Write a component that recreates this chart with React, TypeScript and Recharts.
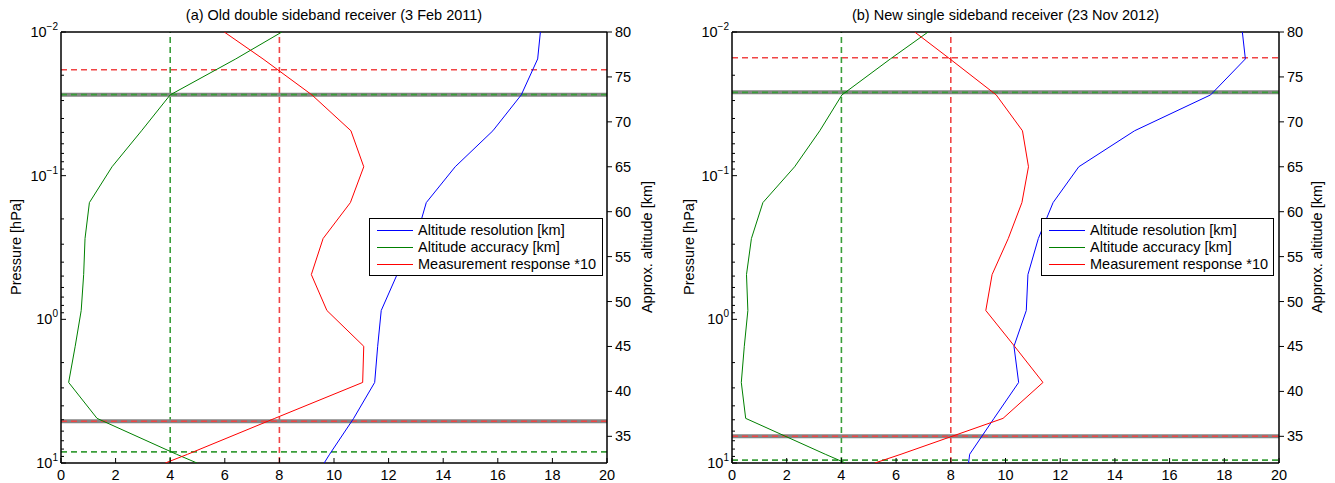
import React from "react";
import { ScatterChart, Scatter, XAxis, YAxis, ReferenceLine, Legend } from "recharts";

// pressure levels [hPa] of the retrieval grid (top to bottom of the plot)
const levels = [0.01, 0.0154, 0.0274, 0.0487, 0.0867, 0.154, 0.274, 0.488, 0.868, 1.54, 2.75, 4.89, 8.69, 10];

// (a) old double sideband receiver
const oldResolution = [17.56, 17.46, 16.86, 15.82, 14.44, 13.38, 13.0, 12.31, 11.73, 11.6, 11.49, 10.72, 9.84, 9.64];
const oldAccuracy = [8.09, 6.4, 4.0, 2.95, 1.87, 1.04, 0.88, 0.83, 0.74, 0.52, 0.28, 1.32, 4.23, 4.98];
const oldResponse = [5.98, 7.4, 9.19, 10.62, 11.09, 10.6, 9.6, 9.17, 9.74, 11.09, 11.05, 7.83, 4.64, 3.82];

// (b) new single sideband receiver
const newResolution = [18.66, 18.77, 17.5, 14.72, 12.68, 11.74, 11.2, 10.82, 10.76, 10.31, 10.48, 9.58, 8.69, 8.65];
const newAccuracy = [7.17, 5.79, 4.02, 3.21, 2.29, 1.13, 0.71, 0.53, 0.58, 0.45, 0.34, 0.5, 3.41, 4.15];
const newResponse = [6.68, 7.97, 9.66, 10.62, 10.84, 10.6, 10.1, 9.51, 9.28, 10.33, 11.37, 9.91, 6.18, 5.22];

// limits [hPa]: upper accuracy limit, upper response limit, lower response limit, lower accuracy limit
const oldLimits = { accTop: 0.0273, respTop: 0.0183, respBottom: 5.12, accBottom: 8.37 };
const newLimits = { accTop: 0.0263, respTop: 0.0151, respBottom: 6.51, accBottom: 9.55 };

const seriesNames = ["Altitude resolution [km]", "Altitude accuracy [km]", "Measurement response *10"];
const seriesColors = ["#0000ff", "#008000", "#ff0000"];

const xTicks = [0, 2, 4, 6, 8, 10, 12, 14, 16, 18, 20];
const pressureMajor = [0.01, 0.1, 1, 10];
const pressureMinor = [0.02, 0.03, 0.04, 0.05, 0.06, 0.07, 0.08, 0.09, 0.2, 0.3, 0.4, 0.5, 0.6, 0.7, 0.8, 0.9, 2, 3, 4, 5, 6, 7, 8, 9];
const altitudeTicks = [35, 40, 45, 50, 55, 60, 65, 70, 75, 80];

const FONT = '"Liberation Sans", Arial, Helvetica, sans-serif';
const GREEN_DASH = "#3a9e3a";
const RED_DASH = "#f04545";

const toPoints = (vals: number[]) => levels.map((p, i) => ({ p, v: vals[i] }));

const PressureTick = (props: any) => {
  const { x, y, payload } = props;
  const v = payload.value;
  const major = pressureMajor.some((m) => Math.abs(m - v) < 1e-9);
  const exp = Math.round(Math.log10(v));
  return (
    <g>
      <line x1={x} x2={x + (major ? 5 : 3)} y1={y} y2={y} stroke="#000" strokeWidth={1} />
      {major && (
        <text x={x - 3} y={y + 5} textAnchor="end" fontSize={14.5} fill="#000">
          10
          <tspan dy={-7} fontSize={10}>
            {exp < 0 ? "\u2212" + -exp : String(exp)}
          </tspan>
        </text>
      )}
    </g>
  );
};

const PressureMirrorTick = (props: any) => {
  const { x, y, payload } = props;
  const major = pressureMajor.some((m) => Math.abs(m - payload.value) < 1e-9);
  return <line x1={x} x2={x - (major ? 5 : 3)} y1={y} y2={y} stroke="#000" strokeWidth={1} />;
};

const AltitudeTick = (props: any) => {
  const { x, y, payload } = props;
  return (
    <g>
      <line x1={x} x2={x + 5} y1={y} y2={y} stroke="#000" strokeWidth={1} />
      <text x={x + 8} y={y + 5} textAnchor="start" fontSize={14.5} fill="#000">
        {payload.value}
      </text>
    </g>
  );
};

const BottomTick = (props: any) => {
  const { x, y, payload } = props;
  return (
    <g>
      <line x1={x} x2={x} y1={y} y2={y - 5} stroke="#000" strokeWidth={1} />
      <text x={x} y={y + 17} textAnchor="middle" fontSize={14.5} fill="#000">
        {payload.value}
      </text>
    </g>
  );
};

const TopTick = (props: any) => {
  const { x, y } = props;
  return <line x1={x} x2={x} y1={y} y2={y + 5} stroke="#000" strokeWidth={1} />;
};

const LegendBox = ({ width }: { width: number }) => (
  <div
    style={{
      boxSizing: "border-box",
      width,
      height: 58,
      border: "1.3px solid #000",
      background: "#fff",
      paddingTop: 3,
      fontFamily: FONT,
      fontSize: 14.5,
      color: "#000",
    }}
  >
    {seriesNames.map((name, i) => (
      <div key={name} style={{ display: "flex", alignItems: "center", height: 17 }}>
        <span style={{ display: "inline-block", width: 36, marginLeft: 7, borderTop: `1px solid ${seriesColors[i]}` }} />
        <span style={{ marginLeft: 5, whiteSpace: "nowrap", lineHeight: "17px" }}>{name}</span>
      </div>
    ))}
  </div>
);

type PanelProps = {
  left: number;
  width: number;
  axisLeft: number;
  axisRight: number;
  title: string;
  resolution: number[];
  accuracy: number[];
  response: number[];
  limits: { accTop: number; respTop: number; respBottom: number; accBottom: number };
  legendLeft: number;
  legendWidth: number;
  pressureLabelX: number;
  altitudeLabelX: number;
};

function Panel(props: PanelProps) {
  const { left, width, axisLeft, axisRight, title, limits } = props;
  const plotLeft = axisLeft;
  const plotRight = width - axisRight;
  const series = [props.resolution, props.accuracy, props.response];
  const dash = { strokeDasharray: "6 4", strokeWidth: 1.6 };
  return (
    <div style={{ position: "absolute", left, top: 0, width, height: 483 }}>
      <div
        style={{
          position: "absolute",
          left: plotLeft,
          width: plotRight - plotLeft,
          top: 6,
          textAlign: "center",
          fontSize: 14.5,
          lineHeight: "18px",
          whiteSpace: "nowrap",
        }}
      >
        {title}
      </div>
      <div
        style={{
          position: "absolute",
          left: props.pressureLabelX,
          top: 247,
          transform: "translate(-50%, -50%) rotate(-90deg)",
          fontSize: 14.5,
          whiteSpace: "nowrap",
          zIndex: 2,
        }}
      >
        Pressure [hPa]
      </div>
      <div
        style={{
          position: "absolute",
          left: props.altitudeLabelX,
          top: 247,
          transform: "translate(-50%, -50%) rotate(-90deg)",
          fontSize: 14.5,
          whiteSpace: "nowrap",
          zIndex: 2,
        }}
      >
        Approx. altitude [km]
      </div>
      <ScatterChart width={width} height={483} margin={{ top: 31, right: 0, bottom: 0, left: 0 }}>
        <XAxis
          xAxisId="b"
          dataKey="v"
          type="number"
          domain={[0, 20]}
          ticks={xTicks}
          interval={0}
          allowDataOverflow
          height={20}
          tickSize={0}
          tickMargin={0}
          tick={<BottomTick />}
          axisLine={{ stroke: "#000", strokeWidth: 1.5 }}
        />
        <XAxis
          xAxisId="t"
          orientation="top"
          type="number"
          domain={[0, 20]}
          ticks={xTicks}
          interval={0}
          allowDataOverflow
          height={1}
          tickSize={0}
          tickMargin={0}
          tick={<TopTick />}
          axisLine={{ stroke: "#000", strokeWidth: 1.5 }}
        />
        <YAxis
          yAxisId="p"
          dataKey="p"
          type="number"
          scale="log"
          domain={[0.01, 10]}
          reversed
          allowDataOverflow
          ticks={[...pressureMajor, ...pressureMinor]}
          interval={0}
          width={axisLeft}
          tickSize={0}
          tickMargin={0}
          tick={<PressureTick />}
          axisLine={{ stroke: "#000", strokeWidth: 1.5 }}
        />
        <YAxis
          yAxisId="pm"
          orientation="right"
          type="number"
          scale="log"
          domain={[0.01, 10]}
          reversed
          allowDataOverflow
          ticks={[...pressureMajor, ...pressureMinor]}
          interval={0}
          width={0}
          tickSize={0}
          tickMargin={0}
          tick={<PressureMirrorTick />}
          axisLine={false}
        />
        <YAxis
          yAxisId="z"
          orientation="right"
          type="number"
          domain={[32.03, 80]}
          allowDataOverflow
          ticks={altitudeTicks}
          interval={0}
          width={axisRight}
          tickSize={0}
          tickMargin={0}
          tick={<AltitudeTick />}
          axisLine={{ stroke: "#000", strokeWidth: 1.5 }}
        />

        <ReferenceLine xAxisId="b" yAxisId="p" x={4} stroke={GREEN_DASH} {...dash} />
        <ReferenceLine xAxisId="b" yAxisId="p" x={8} stroke={RED_DASH} {...dash} />
        <ReferenceLine xAxisId="b" yAxisId="p" y={limits.respTop} stroke={RED_DASH} {...dash} />
        <ReferenceLine xAxisId="b" yAxisId="p" y={limits.accTop} stroke="#858585" strokeWidth={4} />
        <ReferenceLine xAxisId="b" yAxisId="p" y={limits.accTop} stroke={GREEN_DASH} {...dash} />
        <ReferenceLine xAxisId="b" yAxisId="p" y={limits.respBottom} stroke="#858585" strokeWidth={4} />
        <ReferenceLine xAxisId="b" yAxisId="p" y={limits.respBottom} stroke={RED_DASH} {...dash} />
        <ReferenceLine xAxisId="b" yAxisId="p" y={limits.accBottom} stroke={GREEN_DASH} {...dash} />

        {series.map((vals, i) => (
          <Scatter
            key={seriesNames[i]}
            name={seriesNames[i]}
            xAxisId="b"
            yAxisId="p"
            data={toPoints(vals)}
            fill={seriesColors[i]}
            line={{ stroke: seriesColors[i], strokeWidth: 1 }}
            shape={() => <g />}
            isAnimationActive={false}
          />
        ))}

        <Legend
          layout="horizontal"
          verticalAlign="middle"
          align="center"
          wrapperStyle={{ left: props.legendLeft, top: 218, width: props.legendWidth, height: 58 }}
          content={() => <LegendBox width={props.legendWidth} />}
        />
      </ScatterChart>
    </div>
  );
}

export default function App() {
  return (
    <div
      style={{
        position: "absolute",
        left: 0,
        top: 0,
        width: 1335,
        height: 483,
        background: "#fff",
        fontFamily: FONT,
        color: "#000",
      }}
    >
      <Panel
        left={0}
        width={668}
        axisLeft={61}
        axisRight={61}
        title="(a) Old double sideband receiver (3 Feb 2011)"
        resolution={oldResolution}
        accuracy={oldAccuracy}
        response={oldResponse}
        limits={oldLimits}
        legendLeft={369}
        legendWidth={234}
        pressureLabelX={16}
        altitudeLabelX={647}
      />
      <Panel
        left={668}
        width={667}
        axisLeft={64}
        axisRight={56}
        title="(b) New single sideband receiver (23 Nov 2012)"
        resolution={newResolution}
        accuracy={newAccuracy}
        response={newResponse}
        limits={newLimits}
        legendLeft={373}
        legendWidth={233}
        pressureLabelX={21}
        altitudeLabelX={649}
      />
    </div>
  );
}
